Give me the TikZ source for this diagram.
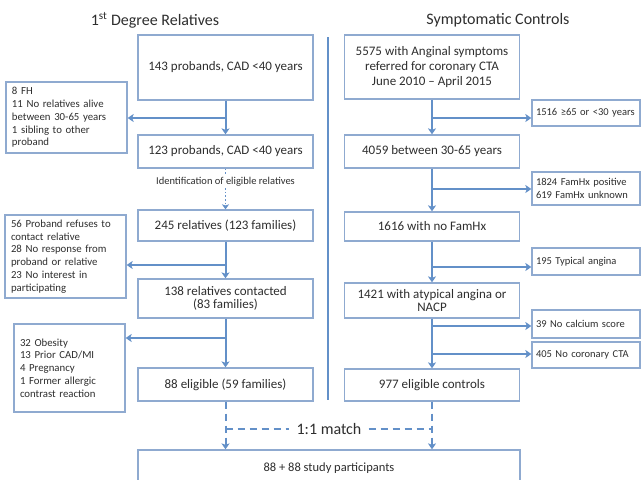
\documentclass[tikz,border=0pt]{standalone}
\usepackage{fontspec}
\setmainfont{Carlito}
\usetikzlibrary{arrows.meta,calc}
\definecolor{boxc}{HTML}{8FAAD0}
\definecolor{arrc}{HTML}{6390C8}
\definecolor{txt}{HTML}{2E2E2E}
\begin{document}
\begin{tikzpicture}[x=1pt,y=-1pt,
  every node/.style={text=txt},
  mainbox/.style={draw=boxc, line width=1.3pt, minimum width=175pt, align=center,
    font=\fontsize{13}{14}\selectfont, inner sep=2pt},
  exbox/.style={draw=boxc, line width=1.3pt, align=left, inner xsep=6pt, inner ysep=2pt,
    font=\fontsize{10.8}{12.8}\selectfont},
  rbox/.style={draw=boxc, line width=1.3pt, align=left, inner xsep=4pt, inner ysep=2pt,
    text width=100pt, minimum width=108pt, font=\fontsize{10.5}{12.8}\selectfont},
  arr/.style={draw=arrc, line width=2pt, -{Stealth[length=6pt,width=8pt,inset=1.5pt]}},
  dashline/.style={draw=arrc, line width=2pt, dash pattern=on 7pt off 5pt},
  title/.style={font=\fontsize{16}{18}\selectfont}
]
\useasboundingbox[fill=white] (0,0) rectangle (641,480);

% titles and divider
\node[title] (T1) at (155,20) {1\textsuperscript{st} Degree Relatives};
\node[title] (T2) at (498,20) {Symptomatic Controls};
\coordinate (dTop) at (328,37);
\coordinate (dBot) at (328,400);
\draw[draw=arrc, line width=2pt] (dTop) -- (dBot);

% left column
\node[mainbox, minimum height=65pt] (L1) at (225.5,67.5) {143 probands, CAD <40 years};
\node[mainbox, minimum height=33pt] (L2) at (225.5,151.5) {123 probands, CAD <40 years};
\node[mainbox, minimum height=31pt] (L3) at (225.5,225.5) {245 relatives (123 families)};
\node[mainbox, minimum height=39pt, font=\fontsize{13}{13.5}\selectfont] (L4) at (225.5,298.5) {138 relatives contacted\\(83 families)};
\node[mainbox, minimum height=33pt] (L5) at (225.5,384.5) {88 eligible (59 families)};

\node[exbox, text width=109pt, minimum height=71pt] (LE1) at (66.5,117.5)
  {8 FH\\11 No relatives alive\\between 30-65 years\\1 sibling to other\\proband};
\node[exbox, text width=109pt, minimum height=83pt] (LE2) at (65.5,256.5)
  {56 Proband refuses to\\contact relative\\28 No response from\\proband or relative\\23 No interest in\\participating};
\node[exbox, text width=99pt, minimum height=88pt] (LE3) at (69.5,368)
  {32 Obesity\\13 Prior CAD/MI\\4 Pregnancy\\1 Former allergic\\contrast reaction};

\node[font=\fontsize{10.5}{12}\selectfont, fill=white, inner sep=1.5pt] (ID) at (225.5,182)
  {Identification of eligible relatives};

% right column
\node[mainbox, minimum height=64pt, font=\fontsize{13}{15}\selectfont] (R1) at (432,67)
  {5575 with Anginal symptoms\\referred for coronary CTA\\June 2010 -- April 2015};
\node[mainbox, minimum height=33pt] (R2) at (432,151.5) {4059 between 30-65 years};
\node[mainbox, minimum height=29pt] (R3) at (432,226.5) {1616 with no FamHx};
\node[mainbox, minimum height=35pt, font=\fontsize{13}{13.5}\selectfont] (R4) at (432,300.5) {1421 with atypical angina or\\NACP};
\node[mainbox, minimum height=32pt] (R5) at (432,385) {977 eligible controls};

\node[rbox, minimum height=26pt] (RE1) at (586,113) {1516 ≥65 or <30 years};
\node[rbox, minimum height=33pt] (RE2) at (586,188.5) {1824 FamHx positive\\619 FamHx unknown};
\node[rbox, minimum height=27pt] (RE3) at (586,261.5) {195 Typical angina};
\node[rbox, minimum height=28pt] (RE4) at (586,324) {39 No calcium score};
\node[rbox, minimum height=26pt] (RE5) at (586,355) {405 No coronary CTA};

% bottom
\node[draw=boxc, line width=1.3pt, minimum width=382pt, minimum height=36pt,
  font=\fontsize{12.5}{14}\selectfont] (B) at (329,468) {88 + 88 study participants};
\node[font=\fontsize{16}{18}\selectfont, inner xsep=7pt] (M) at (329,429) {1:1 match};

% left connectors
\draw[arr] (L1.south) -- (L2.north);
\coordinate (bL1) at (225.5,118);
\draw[arr] (bL1) -- (bL1 -| LE1.east);
\draw[draw=arrc, line width=1.6pt, dotted] (L2.south) -- (ID.north);
\draw[draw=arrc, line width=1.6pt, dotted, -{Stealth[length=5pt,width=7pt,inset=1.2pt]}] (ID.south) -- (L3.north);
\draw[arr] (L3.south) -- (L4.north);
\coordinate (bL2) at (225.5,265);
\draw[arr] (bL2) -- (bL2 -| LE2.east);
\draw[arr] (L4.south) -- (L5.north);
\coordinate (bL3) at (225.5,338);
\draw[arr] (bL3) -- (bL3 -| LE3.east);

% right connectors
\draw[arr] (R1.south) -- (R2.north);
\coordinate (bR1) at (432,118);
\draw[arr] (bR1) -- (bR1 -| RE1.west);
\draw[arr] (R2.south) -- (R3.north);
\coordinate (bR2) at (432,189);
\draw[arr] (bR2) -- (bR2 -| RE2.west);
\draw[arr] (R3.south) -- (R4.north);
\coordinate (bR3) at (432,267);
\draw[arr] (bR3) -- (bR3 -| RE3.west);
\draw[arr] (R4.south) -- (R5.north);
\coordinate (bR4) at (432,326);
\draw[arr] (bR4) -- (bR4 -| RE4.west);
\coordinate (bR5) at (432,354);
\draw[arr] (bR5) -- (bR5 -| RE5.west);

% match connectors
\draw[dashline, -{Stealth[length=6pt,width=8pt,inset=1.5pt]}] (L5.south) -- (L5.south |- B.north);
\draw[dashline, -{Stealth[length=6pt,width=8pt,inset=1.5pt]}] (R5.south) -- (R5.south |- B.north);
\coordinate (mL) at (L5.south |- M.west);
\coordinate (mR) at (R5.south |- M.east);
\draw[dashline] (mL) -- (M.west);
\draw[dashline] (M.east) -- (mR);
\end{tikzpicture}
\end{document}
